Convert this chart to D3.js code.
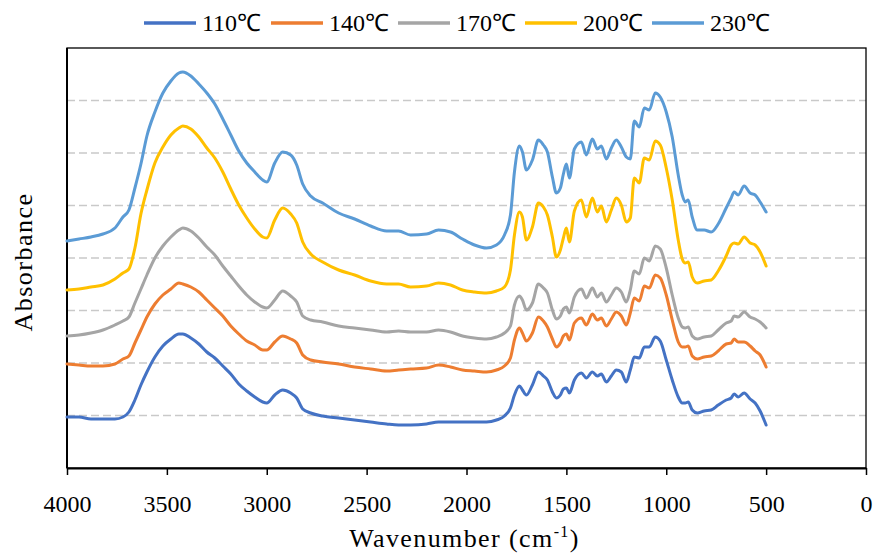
<!DOCTYPE html>
<html>
<head>
<meta charset="utf-8">
<script src="https://cdn.jsdelivr.net/npm/d3@7"></script>
<style>
  body { margin: 0; background: #fff; }
  svg { display: block; font-family: "Liberation Serif", serif; }
</style>
</head>
<body>
<div id="chart"></div>
<script>
// series names and colours
var seriesNames = ['110℃', '140℃', '170℃', '200℃', '230℃']
var seriesColors = ['#4472C4', '#ED7D31', '#A5A5A5', '#FFC000', '#5B9BD5']

// x ticks (wavenumber)
var xTicks = [4000, 3500, 3000, 2500, 2000, 1500, 1000, 500, 0]

// sampled wavenumbers (cm-1), shared by every spectrum
var wavenumbers = [4000, 3940, 3880, 3820, 3760, 3720, 3690, 3660, 3630, 3600,
  3560, 3520, 3480, 3440, 3420, 3380, 3340, 3300, 3260, 3220,
  3180, 3140, 3100, 3060, 3020, 3000, 2960, 2920, 2880, 2850,
  2820, 2780, 2720, 2640, 2560, 2480, 2400, 2340, 2280, 2200,
  2140, 2080, 2020, 1960, 1900, 1850, 1810, 1780, 1760, 1735,
  1720, 1700, 1670, 1640, 1615, 1595, 1570, 1550, 1530, 1515,
  1500, 1485, 1460, 1425, 1400, 1370, 1345, 1325, 1300, 1275,
  1250, 1225, 1200, 1180, 1160, 1135, 1110, 1085, 1055, 1030,
  1000, 970, 940, 920, 905, 890, 870, 845, 810, 775,
  740, 700, 675, 660, 640, 610, 580, 555, 530, 500]

// absorbance (stacked, arbitrary units)
var abs110 = [0.51, 0.51, 0.49, 0.49, 0.49, 0.51, 0.56, 0.68, 0.83, 0.96,
  1.11, 1.22, 1.29, 1.34, 1.34, 1.30, 1.24, 1.16, 1.10, 1.02,
  0.94, 0.84, 0.77, 0.71, 0.66, 0.65, 0.73, 0.78, 0.75, 0.70,
  0.59, 0.55, 0.52, 0.50, 0.48, 0.46, 0.44, 0.43, 0.43, 0.44,
  0.46, 0.46, 0.46, 0.46, 0.46, 0.48, 0.52, 0.60, 0.73, 0.82,
  0.78, 0.73, 0.83, 0.96, 0.92, 0.88, 0.76, 0.70, 0.73, 0.79,
  0.80, 0.75, 0.88, 0.95, 0.90, 0.96, 0.92, 0.94, 0.86, 0.92,
  0.98, 0.96, 0.86, 0.98, 1.11, 1.10, 1.21, 1.21, 1.31, 1.27,
  1.08, 0.88, 0.71, 0.65, 0.65, 0.66, 0.58, 0.55, 0.57, 0.58,
  0.63, 0.68, 0.70, 0.74, 0.71, 0.75, 0.69, 0.65, 0.57, 0.43]
var abs140 = [1.04, 1.03, 1.02, 1.02, 1.04, 1.09, 1.12, 1.25, 1.38, 1.51,
  1.64, 1.73, 1.79, 1.85, 1.84, 1.81, 1.76, 1.68, 1.60, 1.52,
  1.42, 1.34, 1.27, 1.23, 1.18, 1.18, 1.26, 1.32, 1.29, 1.25,
  1.13, 1.08, 1.06, 1.04, 1.01, 0.99, 0.97, 0.98, 0.99, 1.00,
  1.03, 1.01, 0.98, 0.97, 0.96, 0.98, 1.02, 1.10, 1.28, 1.40,
  1.35, 1.27, 1.35, 1.51, 1.47, 1.41, 1.29, 1.21, 1.25, 1.32,
  1.34, 1.28, 1.45, 1.50, 1.43, 1.54, 1.48, 1.50, 1.42, 1.49,
  1.56, 1.52, 1.43, 1.55, 1.70, 1.67, 1.82, 1.80, 1.93, 1.90,
  1.73, 1.48, 1.26, 1.21, 1.21, 1.22, 1.12, 1.09, 1.11, 1.12,
  1.17, 1.24, 1.25, 1.29, 1.26, 1.26, 1.22, 1.17, 1.13, 1.01]
var abs170 = [1.32, 1.33, 1.35, 1.38, 1.43, 1.47, 1.51, 1.65, 1.79, 1.93,
  2.10, 2.22, 2.31, 2.38, 2.40, 2.37, 2.30, 2.21, 2.13, 2.02,
  1.92, 1.82, 1.73, 1.66, 1.61, 1.60, 1.68, 1.77, 1.72, 1.66,
  1.52, 1.48, 1.46, 1.42, 1.40, 1.38, 1.36, 1.37, 1.36, 1.36,
  1.38, 1.36, 1.32, 1.30, 1.29, 1.31, 1.35, 1.42, 1.63, 1.72,
  1.68, 1.58, 1.65, 1.84, 1.80, 1.75, 1.58, 1.49, 1.52, 1.59,
  1.61, 1.55, 1.71, 1.79, 1.70, 1.80, 1.71, 1.75, 1.66, 1.73,
  1.80, 1.76, 1.66, 1.78, 1.97, 1.94, 2.10, 2.07, 2.22, 2.19,
  2.00, 1.73, 1.50, 1.41, 1.40, 1.41, 1.32, 1.29, 1.31, 1.32,
  1.38, 1.45, 1.47, 1.52, 1.51, 1.56, 1.51, 1.49, 1.46, 1.40]
var abs200 = [1.78, 1.79, 1.81, 1.83, 1.89, 1.95, 1.99, 2.20, 2.54, 2.78,
  3.05, 3.21, 3.33, 3.40, 3.42, 3.39, 3.31, 3.20, 3.10, 2.96,
  2.79, 2.63, 2.50, 2.39, 2.31, 2.30, 2.48, 2.60, 2.54, 2.45,
  2.26, 2.14, 2.06, 1.98, 1.93, 1.87, 1.84, 1.84, 1.81, 1.82,
  1.85, 1.83, 1.78, 1.76, 1.75, 1.77, 1.81, 1.98, 2.33, 2.56,
  2.51, 2.28, 2.41, 2.65, 2.61, 2.53, 2.31, 2.11, 2.18, 2.30,
  2.40, 2.26, 2.57, 2.68, 2.51, 2.70, 2.56, 2.62, 2.46, 2.58,
  2.70, 2.63, 2.46, 2.50, 2.90, 2.85, 3.10, 3.08, 3.27, 3.23,
  3.00, 2.68, 2.28, 2.09, 2.05, 2.06, 1.91, 1.85, 1.87, 1.88,
  1.97, 2.12, 2.23, 2.25, 2.24, 2.31, 2.25, 2.23, 2.16, 2.02]
var abs230 = [2.27, 2.29, 2.31, 2.34, 2.40, 2.51, 2.58, 2.80, 3.04, 3.32,
  3.56, 3.75, 3.87, 3.95, 3.96, 3.92, 3.84, 3.75, 3.64, 3.49,
  3.33, 3.17, 3.05, 2.96, 2.88, 2.86, 3.05, 3.16, 3.13, 3.03,
  2.84, 2.72, 2.65, 2.55, 2.49, 2.42, 2.37, 2.37, 2.33, 2.34,
  2.38, 2.36, 2.29, 2.23, 2.20, 2.23, 2.33, 2.53, 2.96, 3.22,
  3.16, 2.98, 3.08, 3.28, 3.23, 3.16, 2.91, 2.75, 2.80, 2.94,
  3.04, 2.90, 3.19, 3.26, 3.13, 3.29, 3.19, 3.22, 3.09, 3.20,
  3.28, 3.21, 3.11, 3.09, 3.47, 3.41, 3.60, 3.58, 3.75, 3.71,
  3.56, 3.31, 2.93, 2.73, 2.66, 2.68, 2.51, 2.38, 2.38, 2.36,
  2.44, 2.60, 2.70, 2.76, 2.73, 2.82, 2.75, 2.73, 2.66, 2.56]

var seriesValues = [abs110, abs140, abs170, abs200, abs230]

// y axis has no labels, only dashed gridlines
var yMax = 4.2
var gridStep = 0.525

var W = 878, H = 553
var margin = { top: 48, right: 12, bottom: 85, left: 67 }
var plotW = W - margin.left - margin.right
var plotH = H - margin.top - margin.bottom
var FONT = '"Liberation Serif", serif'

var svg = d3.select('#chart').append('svg')
  .attr('width', W)
  .attr('height', H)

var x = d3.scaleLinear().domain([4000, 0]).range([margin.left, margin.left + plotW])
var y = d3.scaleLinear().domain([0, yMax]).range([margin.top + plotH, margin.top])

// gridlines
var gridVals = d3.range(1, 8).map(function (k) { return k * gridStep })
svg.append('g').selectAll('line')
  .data(gridVals)
  .enter().append('line')
  .attr('x1', x(4000)).attr('x2', x(0))
  .attr('y1', function (d) { return y(d) })
  .attr('y2', function (d) { return y(d) })
  .attr('stroke', '#C9C9C9')
  .attr('stroke-width', 1.6)
  .attr('stroke-dasharray', '8,4')

// plot box
svg.append('rect')
  .attr('x', x(4000)).attr('y', y(yMax))
  .attr('width', x(0) - x(4000)).attr('height', y(0) - y(yMax))
  .attr('fill', 'none')
  .attr('stroke', '#000')
  .attr('stroke-width', 1.3)
svg.append('line')
  .attr('x1', x(4000)).attr('x2', x(4000))
  .attr('y1', y(yMax)).attr('y2', y(0))
  .attr('stroke', '#000').attr('stroke-width', 2)

// x axis
var xAxis = d3.axisBottom(x)
  .tickValues(xTicks)
  .tickSize(7)
  .tickSizeOuter(0)
  .tickFormat(d3.format('d'))
var gx = svg.append('g')
  .attr('transform', 'translate(0,' + y(0) + ')')
  .attr('font-family', FONT)
  .call(xAxis)
gx.select('.domain').attr('stroke', '#000').attr('stroke-width', 2.2)
gx.selectAll('.tick line').attr('stroke', '#000').attr('stroke-width', 1.5)
gx.selectAll('.tick text')
  .attr('y', 44)
  .attr('dy', 0)
  .attr('fill', '#000')
  .style('font-size', '24px')
  .style('font-family', FONT)

// spectra
var line = d3.line()
  .x(function (d, i) { return x(wavenumbers[i]) })
  .y(function (d) { return y(d) })
  .curve(d3.curveMonotoneX)

svg.append('g').selectAll('path')
  .data(seriesValues)
  .enter().append('path')
  .attr('d', function (d) { return line(d) })
  .attr('fill', 'none')
  .attr('stroke', function (d, i) { return seriesColors[i] })
  .attr('stroke-width', 3)
  .attr('stroke-linejoin', 'round')
  .attr('stroke-linecap', 'round')

// axis titles
svg.append('text')
  .attr('x', x(2000) - 2)
  .attr('y', 547)
  .attr('text-anchor', 'middle')
  .style('font-family', FONT)
  .style('font-size', '26px')
  .style('letter-spacing', '1.4px')
  .html('Wavenumber (cm<tspan dy="-10" font-size="16">-1</tspan><tspan dy="10">)</tspan>')

svg.append('text')
  .attr('transform', 'translate(32,' + (y(yMax / 2) + 4) + ') rotate(-90)')
  .attr('text-anchor', 'middle')
  .style('font-family', FONT)
  .style('font-size', '26px')
  .style('letter-spacing', '1.5px')
  .text('Absorbance')

// legend
var legend = svg.append('g').selectAll('g')
  .data(seriesNames)
  .enter().append('g')
  .attr('transform', function (d, i) { return 'translate(' + (144 + i * 127) + ',0)' })
legend.append('line')
  .attr('x1', 0).attr('x2', 52)
  .attr('y1', 23).attr('y2', 23)
  .attr('stroke', function (d, i) { return seriesColors[i] })
  .attr('stroke-width', 3.5)
legend.append('text')
  .attr('x', 58)
  .attr('y', 31)
  .style('font-family', FONT)
  .style('font-size', '24px')
  .text(function (d) { return d })
</script>
</body>
</html>
